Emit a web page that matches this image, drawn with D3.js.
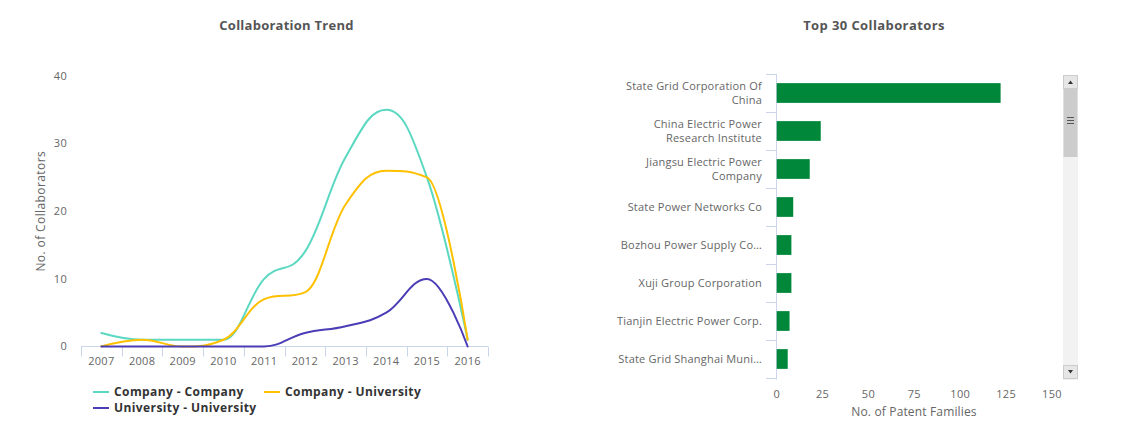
<!DOCTYPE html>
<html>
<head>
<meta charset="utf-8">
<script src="https://cdn.jsdelivr.net/npm/d3@7"></script>
<style>
  html, body { margin: 0; padding: 0; background: #fff; }
  svg { display: block; font-family: "Open Sans", "Noto Sans", sans-serif; }
</style>
</head>
<body>
<svg id="chart" width="1131" height="443"></svg>
<script>
// ---------- DATA ----------
const years = ["2007","2008","2009","2010","2011","2012","2013","2014","2015","2016"];
const companyCompany = [2, 1, 1, 1, 10, 14, 28, 35, 25, 1];
const companyUniversity = [0, 1, 0, 1, 7, 8, 21, 26, 25, 1];
const universityUniversity = [0, 0, 0, 0, 0, 2, 3, 5, 10, 0];
const seriesNames = ["Company - Company", "Company - University", "University - University"];
const seriesColors = ["#5ad8c1", "#ffc000", "#4a3db5"];
const trendTicks = [0, 10, 20, 30, 40];

const collaborators = [
  "State Grid Corporation Of China",
  "China Electric Power Research Institute",
  "Jiangsu Electric Power Company",
  "State Power Networks Co",
  "Bozhou Power Supply Co\u2026",
  "Xuji Group Corporation",
  "Tianjin Electric Power Corp.",
  "State Grid Shanghai Muni\u2026"
];
const patentFamilies = [122, 24, 18, 9, 8, 8, 7, 6];
const familyTicks = [0, 25, 50, 75, 100, 125, 150];

// ---------- SETUP ----------
const svg = d3.select("#chart");
const axisColor = "#ccd6eb";
const labelColor = "#666666";

// Titles
svg.append("text").attr("x", 286.5).attr("y", 30).attr("text-anchor", "middle")
  .attr("font-size", 13).attr("font-weight", "bold").attr("fill", "#555")
  .attr("letter-spacing", 0.25).text("Collaboration Trend");
svg.append("text").attr("x", 874).attr("y", 30).attr("text-anchor", "middle")
  .attr("font-size", 13).attr("font-weight", "bold").attr("fill", "#555")
  .attr("letter-spacing", 0.4).text("Top 30 Collaborators");

// ---------- LEFT: spline chart ----------
const x = d3.scaleBand().domain(years).range([81, 488]);
const y = d3.scaleLinear().domain([0, 40]).range([346.5, 76]);

// y tick labels
svg.append("g").selectAll("text").data(trendTicks).join("text")
  .attr("x", 67).attr("y", d => y(d)).attr("dy", "0.35em")
  .attr("text-anchor", "end").attr("font-size", 11).attr("fill", labelColor)
  .attr("letter-spacing", 0.3).text(d => d);

// y axis title
svg.append("text")
  .attr("transform", `translate(45, ${(y(0) + y(40)) / 2}) rotate(-90)`)
  .attr("text-anchor", "middle").attr("font-size", 12).attr("fill", labelColor)
  .attr("letter-spacing", 0.4).text("No. of Collaborators");

// x axis
const xAxisG = svg.append("g").attr("transform", `translate(0, ${y(0)})`)
  .call(d3.axisBottom(x).tickSize(0).tickPadding(11));
xAxisG.select(".domain").attr("stroke", axisColor).attr("d", `M${x.range()[0]},0H${x.range()[1]}`);
xAxisG.selectAll(".tick text").attr("font-size", 11).attr("fill", labelColor)
  .attr("letter-spacing", 0.3).attr("font-family", "Open Sans, Noto Sans, sans-serif");
// boundary ticks
const bounds = years.map(d => x(d)).concat([x.range()[1]]);
xAxisG.selectAll("line.bound").data(bounds).join("line").attr("class", "bound")
  .attr("x1", d => Math.round(d) + 0.5).attr("x2", d => Math.round(d) + 0.5)
  .attr("y1", 0).attr("y2", 10).attr("stroke", axisColor);

// Highcharts-like spline path
function splinePath(pts) {
  const sm = 1.5, den = sm + 1;
  const rc = [];
  let d = "";
  pts.forEach((p, i) => {
    if (i === 0) { d += `M${p[0]},${p[1]}`; return; }
    const last = pts[i - 1], next = pts[i + 1];
    let lcx = p[0], lcy = p[1];
    if (next) {
      lcx = (sm * p[0] + last[0]) / den; lcy = (sm * p[1] + last[1]) / den;
      let rcx = (sm * p[0] + next[0]) / den, rcy = (sm * p[1] + next[1]) / den;
      const corr = ((rcy - lcy) * (rcx - p[0])) / (rcx - lcx) + p[1] - rcy;
      lcy += corr; rcy += corr;
      if (lcy > last[1] && lcy > p[1]) { lcy = Math.max(last[1], p[1]); rcy = 2 * p[1] - lcy; }
      else if (lcy < last[1] && lcy < p[1]) { lcy = Math.min(last[1], p[1]); rcy = 2 * p[1] - lcy; }
      if (rcy > next[1] && rcy > p[1]) { rcy = Math.max(next[1], p[1]); lcy = 2 * p[1] - rcy; }
      else if (rcy < next[1] && rcy < p[1]) { rcy = Math.min(next[1], p[1]); lcy = 2 * p[1] - rcy; }
      rc[i] = [rcx, rcy];
    }
    const prc = rc[i - 1] || last;
    d += `C${prc[0]},${prc[1]} ${lcx},${lcy} ${p[0]},${p[1]}`;
  });
  return d;
}

const allSeries = [companyCompany, companyUniversity, universityUniversity];
const cx = d => x(d) + x.bandwidth() / 2;
svg.append("g").selectAll("path").data(allSeries).join("path")
  .attr("d", vals => splinePath(vals.map((v, i) => [cx(years[i]), y(v)])))
  .attr("fill", "none").attr("stroke", (d, i) => seriesColors[i])
  .attr("stroke-width", 2).attr("stroke-linejoin", "round").attr("stroke-linecap", "round");

// legend
const legendPos = [[93, 392], [264, 392], [93, 408]];
const leg = svg.append("g").selectAll("g").data(seriesNames).join("g")
  .attr("transform", (d, i) => `translate(${legendPos[i][0]}, ${legendPos[i][1]})`);
leg.append("line").attr("x1", 0).attr("x2", 16).attr("y1", 0).attr("y2", 0)
  .attr("stroke", (d, i) => seriesColors[i]).attr("stroke-width", 2);
leg.append("text").attr("x", 21).attr("dy", "0.35em").attr("font-size", 12)
  .attr("font-weight", "bold").attr("fill", "#333").attr("letter-spacing", 0.4).text(d => d);

// ---------- RIGHT: bar chart ----------
const yb = d3.scaleBand().domain(collaborators).range([74, 378]).paddingInner(0.48).paddingOuter(0.24);
const yBand = d3.scaleBand().domain(collaborators).range([74, 378]);
const xb = d3.scaleLinear().domain([0, 150]).range([776.7, 1052]);

// category axis line
svg.append("line").attr("x1", 776.5).attr("x2", 776.5).attr("y1", 74).attr("y2", 379.5)
  .attr("stroke", axisColor);
const cb = collaborators.map(d => yBand(d)).concat([yBand.range()[1]]);
svg.append("g").selectAll("line").data(cb).join("line")
  .attr("x1", 766).attr("x2", 776.5)
  .attr("y1", d => Math.round(d) + 0.5).attr("y2", d => Math.round(d) + 0.5)
  .attr("stroke", axisColor);

// category labels with wrapping
const catG = svg.append("g").selectAll("text").data(collaborators).join("text")
  .attr("text-anchor", "end").attr("font-size", 11).attr("fill", labelColor)
  .attr("letter-spacing", 0.2);
catG.each(function(d) {
  const t = d3.select(this);
  const words = d.split(" ");
  const lines = [];
  let cur = [];
  const tmp = t.append("tspan");
  words.forEach(w => {
    const test = cur.concat([w]).join(" ");
    tmp.text(test);
    if (tmp.node().getComputedTextLength() > 150 && cur.length) {
      lines.push(cur.join(" "));
      cur = [w];
    } else cur.push(w);
  });
  lines.push(cur.join(" "));
  tmp.remove();
  const c = yBand(d) + yBand.bandwidth() / 2;
  const lh = 14;
  lines.forEach((ln, i) => {
    t.append("tspan").attr("x", 762)
      .attr("y", c + (i - (lines.length - 1) / 2) * lh)
      .attr("dy", "0.35em").text(ln);
  });
});

// bars
svg.append("g").selectAll("rect").data(patentFamilies).join("rect")
  .attr("x", xb(0)).attr("y", (d, i) => yb(collaborators[i]))
  .attr("width", d => xb(d) - xb(0)).attr("height", yb.bandwidth())
  .attr("fill", "#00873a");

// value axis labels
svg.append("g").selectAll("text").data(familyTicks).join("text")
  .attr("x", d => xb(d)).attr("y", 394).attr("dy", "0.35em")
  .attr("text-anchor", "middle").attr("font-size", 11).attr("fill", labelColor)
  .attr("letter-spacing", 0.3).text(d => d);
svg.append("text").attr("x", 914).attr("y", 412).attr("dy", "0.35em")
  .attr("text-anchor", "middle").attr("font-size", 12).attr("fill", labelColor)
  .attr("letter-spacing", 0.15).text("No. of Patent Families");

// scrollbar (decorative)
const sb = svg.append("g");
sb.append("rect").attr("x", 1063.5).attr("y", 75.5).attr("width", 14).attr("height", 304)
  .attr("fill", "#f2f2f2").attr("stroke", "#f2f2f2");
sb.append("rect").attr("x", 1063.5).attr("y", 89).attr("width", 14).attr("height", 68)
  .attr("fill", "#cccccc");
[0, 3, 6].forEach(o => sb.append("line").attr("x1", 1067).attr("x2", 1074)
  .attr("y1", 120.5 + o - 3).attr("y2", 120.5 + o - 3).attr("stroke", "#555"));
sb.append("rect").attr("x", 1063.5).attr("y", 75.5).attr("width", 14).attr("height", 13)
  .attr("fill", "#e6e6e6").attr("stroke", "#cccccc");
sb.append("rect").attr("x", 1063.5).attr("y", 365.5).attr("width", 14).attr("height", 13)
  .attr("fill", "#e6e6e6").attr("stroke", "#cccccc");
sb.append("path").attr("d", "M1068,84L1073,84L1070.5,80.5Z").attr("fill", "#333");
sb.append("path").attr("d", "M1068,370L1073,370L1070.5,373.5Z").attr("fill", "#333");
</script>
</body>
</html>
